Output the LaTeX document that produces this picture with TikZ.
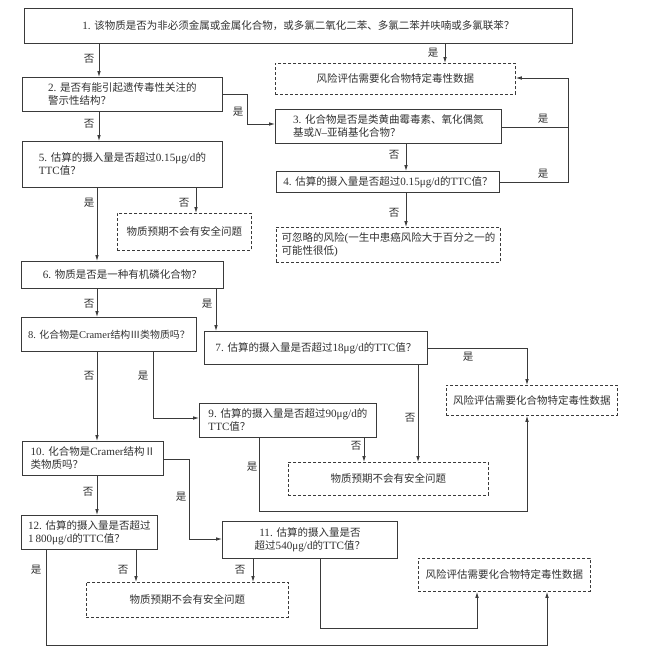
\documentclass[tikz,border=0pt]{standalone}
\usepackage{fontspec}
\setmainfont{Noto Sans CJK SC}
\newfontfamily\lat[Scale=1.06]{Liberation Serif}
\usetikzlibrary{arrows.meta}
\definecolor{lncol}{HTML}{3A3A3A}
\definecolor{txcol}{HTML}{303030}
\begin{document}
\begin{tikzpicture}[x=1pt,y=-1pt,
  every node/.style={font=\fontsize{10.5}{13}\selectfont, text=txcol},
  box/.style={draw=lncol, line width=0.8pt, rectangle, inner sep=0pt, anchor=north west, align=left},
  dbox/.style={box, dash pattern=on 3pt off 2pt},
  wire/.style={draw=lncol, line width=0.8pt},
  arr/.style={wire, -{Latex[length=6pt,width=3.6pt]}},
  lab/.style={inner sep=0pt}
]
\useasboundingbox (0,0) rectangle (645,656);

% boxes
\node[box, minimum width=548, minimum height=35, align=center] (b1) at (24,8) {{\lat 1. }该物质是否为非必须金属或金属化合物，或多氯二氧化二苯、多氯二苯并呋喃或多氯联苯？};
\node[dbox, minimum width=240, minimum height=31, align=center] (r1) at (275,63) {风险评估需要化合物特定毒性数据};
\node[box, minimum width=200, minimum height=34] (b2) at (22,77) {{\lat 2. }是否有能引起遗传毒性关注的\\警示性结构？};
\node[box, minimum width=226, minimum height=34] (b3) at (275,109) {{\lat 3. }化合物是否是类黄曲霉毒素、氧化偶氮\\基或{\lat\itshape N}{\lat –}亚硝基化合物？};
\node[box, minimum width=223, minimum height=21, align=center] (b4) at (276,171) {{\lat 4. }估算的摄入量是否超过{\lat 0.15μg/d}的{\lat TTC}值？};
\node[dbox, minimum width=224, minimum height=35] (r2) at (276,227) {可忽略的风险{\lat (}一生中患癌风险大于百分之一的\\可能性很低{\lat )}};
\node[box, minimum width=200, minimum height=46] (b5) at (22,141) {{\lat 5. }估算的摄入量是否超过{\lat 0.15μg/d}的\\{\lat TTC}值？};
\node[dbox, minimum width=134, minimum height=37, align=center] (d1) at (117,213) {物质预期不会有安全问题};
\node[box, minimum width=202, minimum height=27, align=center] (b6) at (21,261) {{\lat 6. }物质是否是一种有机磷化合物？};
\node[box, minimum width=175, minimum height=34, align=center, font=\fontsize{9.9}{13}\selectfont] (b8) at (21,317) {{\lat 8. }化合物是{\lat Cramer}结构Ⅲ类物质吗？};
\node[box, minimum width=223, minimum height=33, align=center] (b7) at (204,331) {{\lat 7. }估算的摄入量是否超过{\lat 18μg/d}的{\lat TTC}值？};
\node[dbox, minimum width=171, minimum height=30, align=center] (r3) at (446,385) {风险评估需要化合物特定毒性数据};
\node[box, minimum width=177, minimum height=34] (b9) at (199,403) {{\lat 9. }估算的摄入量是否超过{\lat 90μg/d}的\\{\lat TTC}值？};
\node[dbox, minimum width=200, minimum height=33, align=center] (d2) at (288,462) {物质预期不会有安全问题};
\node[box, minimum width=141, minimum height=34] (b10) at (22,441) {{\lat 10. }化合物是{\lat Cramer}结构Ⅱ\\类物质吗？};
\node[box, minimum width=136, minimum height=34] (b12) at (21,515) {{\lat 12. }估算的摄入量是否超过\\{\lat 1\,800μg/d}的{\lat TTC}值？};
\node[box, minimum width=175, minimum height=37, align=center] (b11) at (222,521) {{\lat 11. }估算的摄入量是否\\超过{\lat 540μg/d}的{\lat TTC}值？};
\node[dbox, minimum width=202, minimum height=35, align=center] (d3) at (86,582) {物质预期不会有安全问题};
\node[dbox, minimum width=172, minimum height=33, align=center] (r4) at (418,558) {风险评估需要化合物特定毒性数据};

% junction coordinates
\coordinate (j3) at (568,127);
\coordinate (j4) at (568,182);

% connectors
\draw[arr] (b1.south -| 99,0) -- (b2.north -| 99,0);
\draw[arr] (b1.south -| 445,0) -- (r1.north -| 445,0);
\draw[arr] (b2.east |- 0,94) -- (247,94) -- (247,124) -- (b3.west |- 0,124);
\draw[wire] (b3.east |- j3) -- (j3);
\draw[arr] (b4.east |- j4) -- (j4) -- (568,78) -- (r1.east |- 0,78);
\draw[arr] (b3.south -| 406,0) -- (b4.north -| 406,0);
\draw[arr] (b4.south -| 406,0) -- (r2.north -| 406,0);
\draw[arr] (b2.south -| 99,0) -- (b5.north -| 99,0);
\draw[arr] (b5.south -| 97,0) -- (b6.north -| 97,0);
\draw[arr] (b5.south -| 196,0) -- (d1.north -| 196,0);
\draw[arr] (b6.south -| 97,0) -- (b8.north -| 97,0);
\draw[arr] (b6.south -| 216,0) -- (b7.north -| 216,0);
\draw[arr] (b7.east |- 0,348) -- (527,348) -- (r3.north -| 527,0);
\draw[arr] (b7.south -| 418,0) -- (d2.north -| 418,0);
\draw[arr] (b8.south -| 97,0) -- (b10.north -| 97,0);
\draw[arr] (b8.south -| 153,0) -- (153,418) -- (b9.west |- 0,418);
\draw[arr] (b9.south -| 364,0) -- (d2.north -| 364,0);
\draw[arr] (b9.south -| 259,0) -- (259,511) -- (527,511) -- (r3.south -| 527,0);
\draw[arr] (b10.south -| 97,0) -- (b12.north -| 97,0);
\draw[arr] (b10.east |- 0,459) -- (189,459) -- (189,539) -- (b11.west |- 0,539);
\draw[arr] (b12.south -| 136,0) -- (d3.north -| 136,0);
\draw[arr] (b12.south -| 46,0) -- (46,645) -- (547,645) -- (r4.south -| 547,0);
\draw[arr] (b11.south -| 253,0) -- (d3.north -| 253,0);
\draw[arr] (b11.south -| 320,0) -- (320,628) -- (477,628) -- (r4.south -| 477,0);

% labels
\node[lab] (l1) at (89,59) {否};
\node[lab] (l2) at (433,53) {是};
\node[lab] (l3) at (238,112) {是};
\node[lab] (l4) at (543,119) {是};
\node[lab] (l5) at (543,174) {是};
\node[lab] (l6) at (394,155) {否};
\node[lab] (l7) at (394,213) {否};
\node[lab] (l8) at (89,124) {否};
\node[lab] (l9) at (89,203) {是};
\node[lab] (l10) at (184,203) {否};
\node[lab] (l11) at (89,304) {否};
\node[lab] (l12) at (207,304) {是};
\node[lab] (l13) at (468,357) {是};
\node[lab] (l14) at (410,418) {否};
\node[lab] (l15) at (89,376) {否};
\node[lab] (l16) at (143,376) {是};
\node[lab] (l17) at (356,446) {否};
\node[lab] (l18) at (252,467) {是};
\node[lab] (l19) at (88,492) {否};
\node[lab] (l20) at (181,497) {是};
\node[lab] (l21) at (123,570) {否};
\node[lab] (l22) at (36,570) {是};
\node[lab] (l23) at (240,570) {否};
\end{tikzpicture}
\end{document}
